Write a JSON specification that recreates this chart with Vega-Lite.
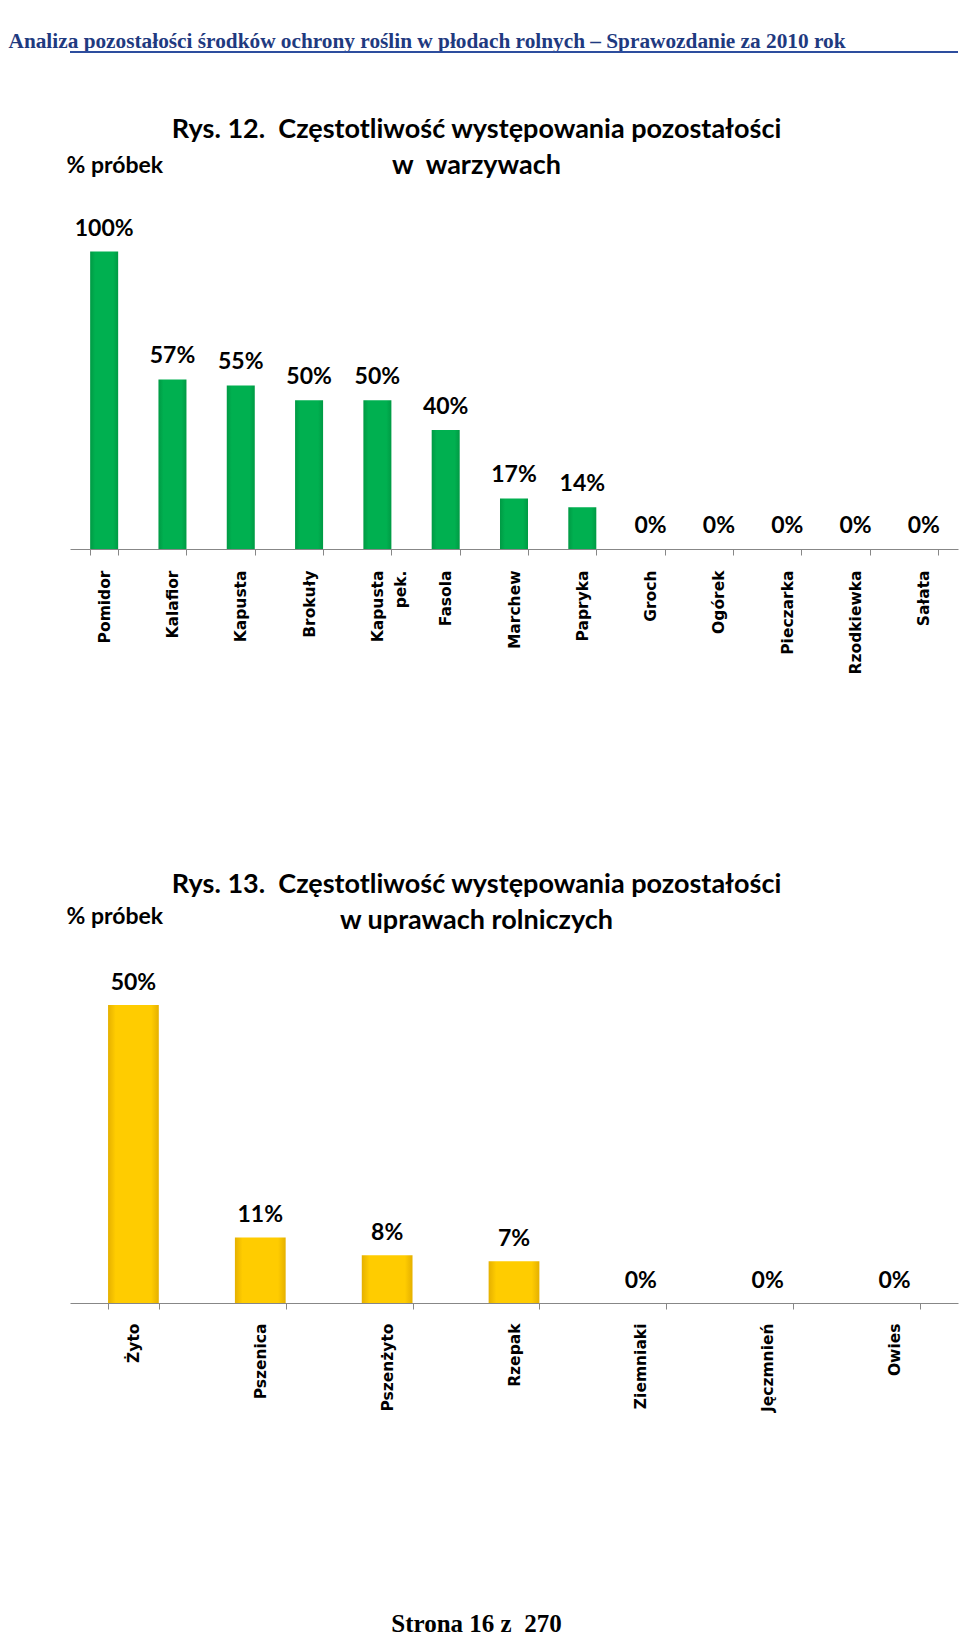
{
  "$schema": "https://vega.github.io/schema/vega-lite/v6.json",
  "background": "white",
  "padding": {"left": 8, "top": 30, "right": 0, "bottom": 0},
  "autosize": {"type": "pad"},
  "spacing": 290,
  "bounds": "flush",
  "config": {"view": {"stroke": null}},
  "vconcat": [
    {
      "width": 888,
      "height": 497,
      "data": {"values": [
        {"crop": "Pomidor", "share": 1.00},
        {"crop": "Kalafior", "share": 0.57},
        {"crop": "Kapusta", "share": 0.55},
        {"crop": "Brokuły", "share": 0.50},
        {"crop": "Kapusta pek.", "share": 0.50},
        {"crop": "Fasola", "share": 0.40},
        {"crop": "Marchew", "share": 0.17},
        {"crop": "Papryka", "share": 0.14},
        {"crop": "Groch", "share": 0},
        {"crop": "Ogórek", "share": 0},
        {"crop": "Pieczarka", "share": 0},
        {"crop": "Rzodkiewka", "share": 0},
        {"crop": "Sałata", "share": 0}
      ]},
      "resolve": {"axis": {"x": "independent", "y": "independent"}},
      "layer": [
        {
          "mark": {"type": "rule", "color": "#2E4E9E", "strokeWidth": 1.5},
          "encoding": {"y": {"datum": 1.6712, "type": "quantitative",
            "axis": {"orient": "right", "title": "Analiza pozostałości środków ochrony roślin w płodach rolnych – Sprawozdanie za 2010 rok",
              "titleAngle": 0, "titleAlign": "left", "titleBaseline": "alphabetic", "titleX": -950, "titleY": -4.75,
              "titleFont": "Liberation Serif", "titleFontSize": 21.3, "titleFontWeight": "bold", "titleColor": "#1F3A80",
              "domain": false, "ticks": false, "labels": false, "grid": false}}}
        },
        {
          "mark": {"type": "bar", "fill": {"gradient": "linear", "x1": 0, "x2": 1, "y1": 0, "y2": 0,
            "stops": [{"offset": 0, "color": "#009A44"}, {"offset": 0.18, "color": "#00B050"}, {"offset": 0.82, "color": "#00B050"}, {"offset": 1, "color": "#009A44"}]}},
          "encoding": {
            "x": {"field": "crop", "type": "nominal", "sort": null,
              "scale": {"paddingInner": 0.59, "paddingOuter": 0.295},
              "axis": {"orient": "bottom", "title": null, "labelAngle": -90, "labelAlign": "right", "labelBaseline": "middle",
                "labelFont": "DejaVu Sans", "labelFontWeight": "bold", "labelFontSize": 15.5, "labelColor": "#000000",
                "labelPadding": 15, "tickBand": "extent", "tickSize": 6, "tickColor": "#878787", "domainColor": "#878787",
                "labelExpr": "datum.label == 'Kapusta pek.' ? ['Kapusta', 'pek.'] : datum.label",
                "labelLineHeight": 23, "labelLimit": 0}},
            "y": {"field": "share", "type": "quantitative",
              "scale": {"domain": [0, 1.6712], "nice": false},
              "axis": {"orient": "left", "title": "% próbek", "titleAngle": 0, "titleAlign": "left", "titleBaseline": "middle",
                "titleX": -4, "titleY": 113, "titleFont": "Lato", "titleFontSize": 23, "titleFontWeight": "bold",
                "titleColor": "#000000", "domain": false, "ticks": false, "labels": false, "grid": false}},
            "y2": {"datum": 0}
          }
        },
        {
          "mark": {"type": "text", "baseline": "alphabetic", "dy": -16, "font": "Lato", "fontSize": 23, "fontWeight": "bold", "color": "#000000"},
          "encoding": {
            "x": {"field": "crop", "type": "nominal", "sort": null,
              "axis": {"orient": "top", "title": ["Rys. 12.\u00a0 Częstotliwość występowania pozostałości", "w\u00a0 warzywach"],
                "titleX": 406, "titleY": 77, "titleAngle": 0, "titleAlign": "center", "titleBaseline": "middle", "titleLineHeight": 36,
                "titleFont": "Lato", "titleFontSize": 27, "titleFontWeight": "bold", "titleColor": "#000000",
                "domain": false, "ticks": false, "labels": false, "grid": false}},
            "y": {"field": "share", "type": "quantitative", "axis": null},
            "text": {"field": "share", "type": "quantitative", "format": ".0%"}
          }
        }
      ]
    },
    {
      "width": 888,
      "height": 464,
      "data": {"values": [
        {"crop": "Żyto", "share": 0.50},
        {"crop": "Pszenica", "share": 0.11},
        {"crop": "Pszenżyto", "share": 0.08},
        {"crop": "Rzepak", "share": 0.07},
        {"crop": "Ziemniaki", "share": 0},
        {"crop": "Jęczmnień", "share": 0},
        {"crop": "Owies", "share": 0}
      ]},
      "resolve": {"axis": {"x": "independent", "y": "independent"}},
      "layer": [
        {
          "mark": {"type": "bar", "fill": {"gradient": "linear", "x1": 0, "x2": 1, "y1": 0, "y2": 0,
            "stops": [{"offset": 0, "color": "#E5B000"}, {"offset": 0.15, "color": "#FFCC00"}, {"offset": 0.85, "color": "#FFCC00"}, {"offset": 1, "color": "#E5B000"}]}},
          "encoding": {
            "x": {"field": "crop", "type": "nominal", "sort": null,
              "scale": {"paddingInner": 0.6, "paddingOuter": 0.3},
              "axis": {"orient": "bottom", "title": "Strona 16 z\u00a0 270", "titleX": 406, "titleY": 320, "titleAngle": 0, "titleAlign": "center",
                "titleBaseline": "middle", "titleFont": "Liberation Serif", "titleFontSize": 25, "titleFontWeight": "bold",
                "titleColor": "#000000",
                "labelAngle": -90, "labelAlign": "right", "labelBaseline": "middle",
                "labelFont": "DejaVu Sans", "labelFontWeight": "bold", "labelFontSize": 15.5, "labelColor": "#000000",
                "labelPadding": 14, "tickBand": "extent", "tickSize": 6, "tickColor": "#878787", "domainColor": "#878787",
                "labelLimit": 0}},
            "y": {"field": "share", "type": "quantitative",
              "scale": {"domain": [0, 0.7785], "nice": false},
              "axis": {"orient": "left", "title": "% próbek", "titleAngle": 0, "titleAlign": "left", "titleBaseline": "middle",
                "titleX": -4, "titleY": 77, "titleFont": "Lato", "titleFontSize": 23, "titleFontWeight": "bold",
                "titleColor": "#000000", "domain": false, "ticks": false, "labels": false, "grid": false}},
            "y2": {"datum": 0}
          }
        },
        {
          "mark": {"type": "text", "baseline": "alphabetic", "dy": -15, "font": "Lato", "fontSize": 23, "fontWeight": "bold", "color": "#000000"},
          "encoding": {
            "x": {"field": "crop", "type": "nominal", "sort": null,
              "axis": {"orient": "top", "title": ["Rys. 13.\u00a0 Częstotliwość występowania pozostałości", "w uprawach rolniczych"],
                "titleX": 406, "titleY": 45, "titleAngle": 0, "titleAlign": "center", "titleBaseline": "middle", "titleLineHeight": 36,
                "titleFont": "Lato", "titleFontSize": 27, "titleFontWeight": "bold", "titleColor": "#000000",
                "domain": false, "ticks": false, "labels": false, "grid": false}},
            "y": {"field": "share", "type": "quantitative", "axis": null},
            "text": {"field": "share", "type": "quantitative", "format": ".0%"}
          }
        }
      ]
    }
  ]
}
